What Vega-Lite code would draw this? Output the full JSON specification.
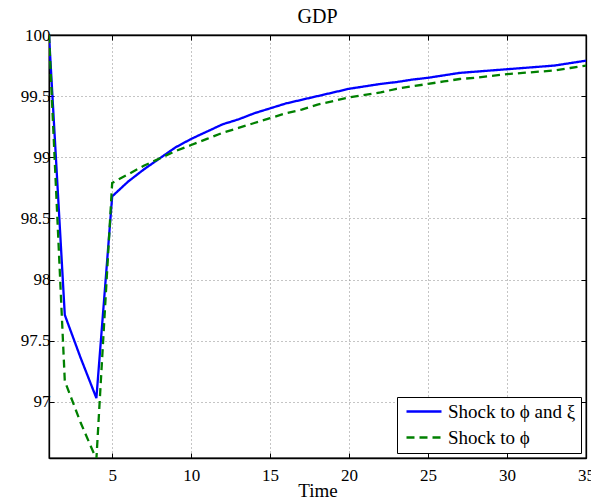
{
  "$schema": "https://vega.github.io/schema/vega-lite/v6.json",
  "autosize": {"type": "none"},
  "width": 537,
  "height": 423,
  "padding": {"left": 49, "top": 35, "right": 5, "bottom": 44},
  "background": "white",
  "title": {"text": "GDP", "font": "Liberation Serif", "fontSize": 20, "fontWeight": "normal", "color": "black", "offset": 14, "dy": 15},
  "config": {
    "view": {"stroke": "black", "strokeWidth": 1.3},
    "axis": {"labelFont": "Liberation Serif", "labelFontSize": 17, "labelColor": "black", "titleFont": "Liberation Serif", "titleFontSize": 19, "titleFontWeight": "normal", "titleColor": "black", "domainColor": "black", "domainWidth": 1.3, "tickColor": "black", "tickSize": -5, "labelOverlap": false, "labelFlush": false, "gridColor": "#8a8a8a", "gridDash": [1, 3], "gridWidth": 1, "gridOpacity": 1},
    "legend": {"labelFont": "Liberation Serif", "labelFontSize": 19, "labelColor": "black"}
  },
  "data": {"values": [
    {"t": 1, "v": 100, "s": "Shock to ϕ and ξ"},
    {"t": 2, "v": 97.71, "s": "Shock to ϕ and ξ"},
    {"t": 3, "v": 97.36, "s": "Shock to ϕ and ξ"},
    {"t": 4, "v": 97.03, "s": "Shock to ϕ and ξ"},
    {"t": 5, "v": 98.68, "s": "Shock to ϕ and ξ"},
    {"t": 6, "v": 98.8, "s": "Shock to ϕ and ξ"},
    {"t": 7, "v": 98.9, "s": "Shock to ϕ and ξ"},
    {"t": 8, "v": 98.99, "s": "Shock to ϕ and ξ"},
    {"t": 9, "v": 99.08, "s": "Shock to ϕ and ξ"},
    {"t": 10, "v": 99.15, "s": "Shock to ϕ and ξ"},
    {"t": 11, "v": 99.21, "s": "Shock to ϕ and ξ"},
    {"t": 12, "v": 99.27, "s": "Shock to ϕ and ξ"},
    {"t": 13, "v": 99.31, "s": "Shock to ϕ and ξ"},
    {"t": 14, "v": 99.36, "s": "Shock to ϕ and ξ"},
    {"t": 15, "v": 99.4, "s": "Shock to ϕ and ξ"},
    {"t": 16, "v": 99.44, "s": "Shock to ϕ and ξ"},
    {"t": 17, "v": 99.47, "s": "Shock to ϕ and ξ"},
    {"t": 18, "v": 99.5, "s": "Shock to ϕ and ξ"},
    {"t": 19, "v": 99.53, "s": "Shock to ϕ and ξ"},
    {"t": 20, "v": 99.56, "s": "Shock to ϕ and ξ"},
    {"t": 21, "v": 99.58, "s": "Shock to ϕ and ξ"},
    {"t": 22, "v": 99.6, "s": "Shock to ϕ and ξ"},
    {"t": 23, "v": 99.615, "s": "Shock to ϕ and ξ"},
    {"t": 24, "v": 99.635, "s": "Shock to ϕ and ξ"},
    {"t": 25, "v": 99.65, "s": "Shock to ϕ and ξ"},
    {"t": 26, "v": 99.67, "s": "Shock to ϕ and ξ"},
    {"t": 27, "v": 99.69, "s": "Shock to ϕ and ξ"},
    {"t": 28, "v": 99.7, "s": "Shock to ϕ and ξ"},
    {"t": 29, "v": 99.71, "s": "Shock to ϕ and ξ"},
    {"t": 30, "v": 99.72, "s": "Shock to ϕ and ξ"},
    {"t": 31, "v": 99.73, "s": "Shock to ϕ and ξ"},
    {"t": 32, "v": 99.74, "s": "Shock to ϕ and ξ"},
    {"t": 33, "v": 99.75, "s": "Shock to ϕ and ξ"},
    {"t": 34, "v": 99.77, "s": "Shock to ϕ and ξ"},
    {"t": 35, "v": 99.79, "s": "Shock to ϕ and ξ"},
    {"t": 1, "v": 100, "s": "Shock to ϕ"},
    {"t": 2, "v": 97.17, "s": "Shock to ϕ"},
    {"t": 3, "v": 96.83, "s": "Shock to ϕ"},
    {"t": 4, "v": 96.53, "s": "Shock to ϕ"},
    {"t": 5, "v": 98.79, "s": "Shock to ϕ"},
    {"t": 6, "v": 98.86, "s": "Shock to ϕ"},
    {"t": 7, "v": 98.93, "s": "Shock to ϕ"},
    {"t": 8, "v": 98.99, "s": "Shock to ϕ"},
    {"t": 9, "v": 99.05, "s": "Shock to ϕ"},
    {"t": 10, "v": 99.1, "s": "Shock to ϕ"},
    {"t": 11, "v": 99.15, "s": "Shock to ϕ"},
    {"t": 12, "v": 99.2, "s": "Shock to ϕ"},
    {"t": 13, "v": 99.24, "s": "Shock to ϕ"},
    {"t": 14, "v": 99.28, "s": "Shock to ϕ"},
    {"t": 15, "v": 99.32, "s": "Shock to ϕ"},
    {"t": 16, "v": 99.36, "s": "Shock to ϕ"},
    {"t": 17, "v": 99.39, "s": "Shock to ϕ"},
    {"t": 18, "v": 99.43, "s": "Shock to ϕ"},
    {"t": 19, "v": 99.46, "s": "Shock to ϕ"},
    {"t": 20, "v": 99.49, "s": "Shock to ϕ"},
    {"t": 21, "v": 99.51, "s": "Shock to ϕ"},
    {"t": 22, "v": 99.53, "s": "Shock to ϕ"},
    {"t": 23, "v": 99.56, "s": "Shock to ϕ"},
    {"t": 24, "v": 99.58, "s": "Shock to ϕ"},
    {"t": 25, "v": 99.6, "s": "Shock to ϕ"},
    {"t": 26, "v": 99.62, "s": "Shock to ϕ"},
    {"t": 27, "v": 99.64, "s": "Shock to ϕ"},
    {"t": 28, "v": 99.65, "s": "Shock to ϕ"},
    {"t": 29, "v": 99.665, "s": "Shock to ϕ"},
    {"t": 30, "v": 99.68, "s": "Shock to ϕ"},
    {"t": 31, "v": 99.69, "s": "Shock to ϕ"},
    {"t": 32, "v": 99.7, "s": "Shock to ϕ"},
    {"t": 33, "v": 99.71, "s": "Shock to ϕ"},
    {"t": 34, "v": 99.73, "s": "Shock to ϕ"},
    {"t": 35, "v": 99.75, "s": "Shock to ϕ"}
  ]},
  "resolve": {"axis": {"x": "independent", "y": "independent"}},
  "layer": [
    {
      "mark": {"type": "line", "strokeWidth": 2.3, "clip": true},
      "encoding": {
        "x": {"field": "t", "type": "quantitative", "scale": {"domain": [1, 35], "nice": false, "zero": false},
              "axis": {"orient": "bottom", "title": "Time", "values": [5, 10, 15, 20, 25, 30, 35], "grid": true, "labelPadding": 14, "titleY": 38, "titleBaseline": "alphabetic", "titlePadding": 0}},
        "y": {"field": "v", "type": "quantitative", "scale": {"domain": [96.54, 100], "nice": false, "zero": false},
              "axis": {"orient": "left", "title": null, "values": [97, 97.5, 98, 98.5, 99, 99.5, 100], "labelExpr": "'' + datum.value", "grid": true, "labelPadding": 4}},
        "color": {"field": "s", "type": "nominal", "sort": null,
                  "scale": {"domain": ["Shock to ϕ and ξ", "Shock to ϕ"], "range": ["#0000ff", "#008000"]},
                  "legend": {"title": null, "orient": "bottom-right", "offset": 5, "fillColor": "white", "strokeColor": "black", "padding": 5, "rowPadding": 6, "symbolType": "M-1,0L6,0", "symbolSize": 100, "symbolStrokeWidth": 2.3, "symbolFillColor": "transparent", "labelOffset": 27, "cornerRadius": 0}},
        "strokeDash": {"field": "s", "type": "nominal", "sort": null,
                  "scale": {"domain": ["Shock to ϕ and ξ", "Shock to ϕ"], "range": [[1, 0], [8, 5]]},
                  "legend": {"title": null}}
      }
    },
    {
      "mark": {"type": "point", "opacity": 0},
      "encoding": {
        "x": {"field": "t", "type": "quantitative", "axis": {"orient": "top", "title": null, "labels": false, "grid": false, "values": [5, 10, 15, 20, 25, 30, 35]}},
        "y": {"field": "v", "type": "quantitative", "axis": {"orient": "right", "title": null, "labels": false, "grid": false, "values": [97, 97.5, 98, 98.5, 99, 99.5, 100]}}
      }
    }
  ]
}
